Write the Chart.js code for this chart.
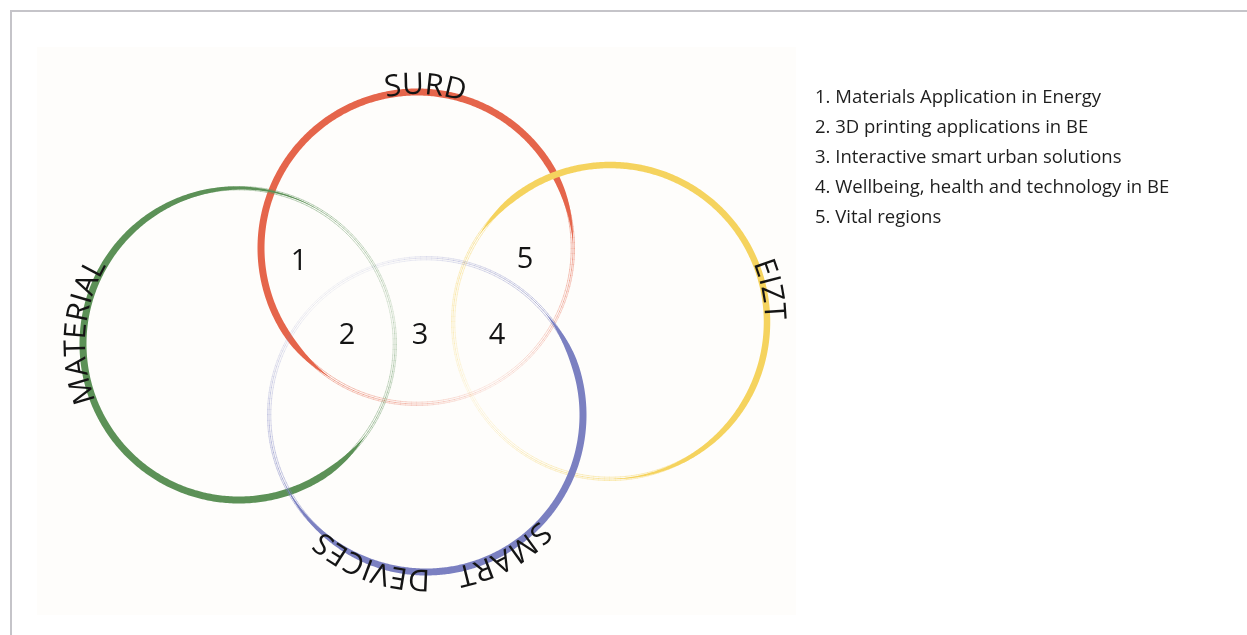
<!DOCTYPE html>
<html>
<head>
<meta charset="utf-8">
<title>Research themes</title>
<script src="https://cdn.jsdelivr.net/npm/chart.js@4/dist/chart.umd.min.js"></script>
<style>
  html, body { margin: 0; padding: 0; background: #fff; }
  #frame { position: absolute; left: 10px; top: 10px; width: 1237px; height: 625px;
           border-top: 2px solid #c5c4c9; border-left: 2px solid #c5c4c9; }
  #paper { position: absolute; left: 37px; top: 47px; width: 759px; height: 568px; background: #fefdfb; }
  #wrap { position: absolute; left: 0; top: 0; width: 1247px; height: 635px; }
  #legend { position: absolute; left: 815px; top: 81px; font-family: "Open Sans", sans-serif;
            font-size: 18.5px; line-height: 30px; color: #1e1e1e; white-space: nowrap; }
</style>
</head>
<body>
<div id="frame"></div>
<div id="paper"></div>
<div id="wrap"><canvas id="venn" width="1247" height="635"></canvas></div>
<div id="legend"></div>
<script>
(function() {
  'use strict';

  // circles of the diagram (centre and radius, diagram units)
  var circleNames = ['SURD', 'MATERIAL', 'EIZT', 'SMART DEVICES'];
  var circleX = [417, 239, 610, 426];
  var circleY = [248, 344, 322, 415];
  var circleR = [156, 156, 157, 157];

  // numbered overlap regions
  var regionLabels = ['1', '2', '3', '4', '5'];
  var regionX = [299, 347, 420, 497, 525];
  var regionY = [259, 333, 333, 333, 257];

  var legendItems = [
    '1. Materials Application in Energy',
    '2. 3D printing applications in BE',
    '3. Interactive smart urban solutions',
    '4. Wellbeing, health and technology in BE',
    '5. Vital regions'
  ];

  ////// look of each ring ///////
  var ringColors = ['#e5654b', '#5c9157', '#f5d35e', '#7b80c1'];
  // thick brush part: degrees clockwise from 3 o'clock
  var ringStyle = [
    { from: 124, to: 358, taperIn: 26, taperOut: 32, width: 7 },
    { from: 36, to: 300, taperIn: 24, taperOut: 100, width: 7 },
    { from: 214, to: 450, taperIn: 22, taperOut: 70, width: 6.5 },
    { from: 320, to: 515, taperIn: 24, taperOut: 60, width: 7 }
  ];
  // where the names sit on the rings (centre angle of each word)
  var nameParts = [
    [{ text: 'SURD', deg: 273 }],
    [{ text: 'MATERIAL', deg: 184.5 }],
    [{ text: 'EIZT', deg: 348.5 }],
    [{ text: 'SMART', deg: 61 }, { text: 'DEVICES', deg: 110 }]
  ];

  document.getElementById('legend').innerHTML = legendItems.map(function(t) {
    return '<div>' + t + '</div>';
  }).join('');

  function brushWidth(deg, st) {
    var d = ((deg - st.from) % 360 + 360) % 360;
    var span = st.to - st.from;
    if (d > span) return 0;
    var f = 1;
    if (d < st.taperIn) f *= Math.sin(d / st.taperIn * Math.PI / 2);
    if (span - d < st.taperOut) f *= Math.sin((span - d) / st.taperOut * Math.PI / 2);
    return st.width * f;
  }

  function distToBrush(deg, st) {
    var d = ((deg - st.from) % 360 + 360) % 360;
    var span = st.to - st.from;
    if (d <= span) return 0;
    return Math.min(d - span, 360 - d);
  }

  function arcText(ctx, text, cx, cy, r, centerDeg) {
    var total = 0;
    for (var i = 0; i < text.length; i++) total += ctx.measureText(text[i]).width;
    var a = centerDeg * Math.PI / 180 - total / r / 2;
    for (var j = 0; j < text.length; j++) {
      var w = ctx.measureText(text[j]).width;
      var mid = a + w / 2 / r;
      ctx.save();
      ctx.translate(cx + r * Math.cos(mid), cy + r * Math.sin(mid));
      ctx.rotate(mid + Math.PI / 2);
      ctx.fillText(text[j], 0, 0);
      ctx.restore();
      a += w / r;
    }
  }

  var vennPlugin = {
    id: 'venn',
    afterDatasetsDraw: function(chart) {
      var ctx = chart.ctx;
      var xs = chart.scales.x;
      var rings = chart.getDatasetMeta(0).data;
      var regions = chart.getDatasetMeta(1).data;

      ctx.save();
      rings.forEach(function(pt, i) {
        var cx = pt.x, cy = pt.y;
        var r = xs.getPixelForValue(circleX[i] + circleR[i]) - xs.getPixelForValue(circleX[i]);
        var st = ringStyle[i];
        ctx.strokeStyle = ringColors[i];
        ctx.fillStyle = ringColors[i];

        // thin hairlines all the way round, fading away from the brush
        ctx.lineWidth = 0.7;
        [-1.8, 0, 1.5].forEach(function(off, k) {
          for (var deg = 0; deg < 360; deg += 2) {
            var dist = distToBrush(deg + 1, st);
            var alpha = Math.max(0.18, 0.8 - dist / 110) * (k === 1 ? 1 : 0.75);
            ctx.globalAlpha = alpha;
            ctx.beginPath();
            ctx.arc(cx, cy, r + off, deg * Math.PI / 180, (deg + 2.2) * Math.PI / 180);
            ctx.stroke();
          }
        });

        // thick brush stroke
        ctx.globalAlpha = 1;
        ctx.beginPath();
        var n, deg2, w, a;
        for (n = 0; n <= 400; n++) {
          deg2 = st.from + (st.to - st.from) * n / 400;
          w = brushWidth(deg2 % 360, st);
          a = deg2 * Math.PI / 180;
          if (n === 0) ctx.moveTo(cx + (r + w / 2) * Math.cos(a), cy + (r + w / 2) * Math.sin(a));
          else ctx.lineTo(cx + (r + w / 2) * Math.cos(a), cy + (r + w / 2) * Math.sin(a));
        }
        for (n = 400; n >= 0; n--) {
          deg2 = st.from + (st.to - st.from) * n / 400;
          w = brushWidth(deg2 % 360, st);
          a = deg2 * Math.PI / 180;
          ctx.lineTo(cx + (r - w / 2) * Math.cos(a), cy + (r - w / 2) * Math.sin(a));
        }
        ctx.closePath();
        ctx.fill();

        // ring name written along the outside
        ctx.fillStyle = '#141414';
        ctx.font = '30px "Open Sans"';
        ctx.textAlign = 'center';
        ctx.textBaseline = 'alphabetic';
        nameParts[i].forEach(function(p) {
          arcText(ctx, p.text, cx, cy, r - 2, p.deg);
        });
      });

      // region numbers
      ctx.globalAlpha = 1;
      ctx.fillStyle = '#141414';
      ctx.font = '29px "Open Sans"';
      ctx.textAlign = 'center';
      ctx.textBaseline = 'alphabetic';
      regions.forEach(function(pt, i) {
        ctx.fillText(regionLabels[i], pt.x, pt.y + 10.5);
      });
      ctx.restore();
    }
  };

  var ctx = document.getElementById('venn');

  var myVenn = new Chart(ctx, {
    type: 'scatter',
    data: {
      datasets: [
        {
          label: 'circles',
          data: circleX.map(function(x, i) { return { x: x, y: circleY[i] }; }),
          pointRadius: 0
        },
        {
          label: 'regions',
          data: regionX.map(function(x, i) { return { x: x, y: regionY[i] }; }),
          pointRadius: 0
        }
      ]
    },
    options: {
      responsive: false,
      animation: false,
      events: [],
      layout: { padding: 0 },
      plugins: { legend: { display: false }, tooltip: { enabled: false } },
      scales: {
        x: { type: 'linear', min: 0, max: 1247, display: false },
        y: { type: 'linear', min: 0, max: 635, reverse: true, display: false }
      }
    },
    plugins: [vennPlugin]
  });
})();
</script>
</body>
</html>
